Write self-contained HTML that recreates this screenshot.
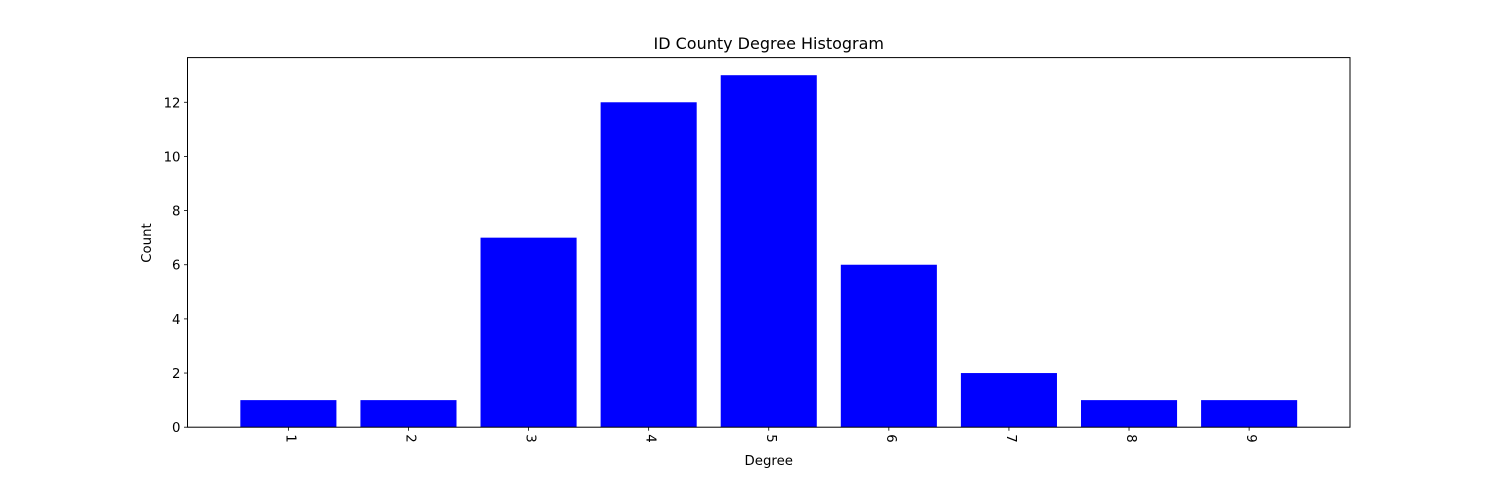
<!DOCTYPE html>
<html><head><meta charset="utf-8">
<style>
html,body{margin:0;padding:0;background:#fff;}
svg text{font-family:"DejaVu Sans","Liberation Sans",sans-serif;fill:#000;}
</style></head>
<body>
<svg id="chart" width="1500" height="480" xmlns="http://www.w3.org/2000/svg">
<rect width="1500" height="480" fill="#fff"/>
<text x="768.75" y="49" font-size="16" text-anchor="middle">ID County Degree Histogram</text>
<text x="768.75" y="465" font-size="13.3" text-anchor="middle">Degree</text>
<text transform="translate(151,243) rotate(-90)" font-size="13.3" text-anchor="middle">Count</text>
<g id="bars"></g>
<g id="ticks"></g>
<rect x="187.5" y="57.6" width="1162.5" height="369.6" fill="none" stroke="#000" stroke-width="1"/>
</svg>
<script>
const categories = [1,2,3,4,5,6,7,8,9];
const counts = [1,1,7,12,13,6,2,1,1];
const yTicks = [0,2,4,6,8,10,12];

const L=187.5,R=1350,T=57.6,B=427.2;
const xMin=0.16,xMax=9.84,yMax=13.65;
const xs=v=>L+(v-xMin)/(xMax-xMin)*(R-L);
const ys=v=>B-v/yMax*(B-T);
const NS="http://www.w3.org/2000/svg";
const bars=document.getElementById('bars');
const ticks=document.getElementById('ticks');
function mk(tag,attrs,parent){const e=document.createElementNS(NS,tag);for(const k in attrs)e.setAttribute(k,attrs[k]);parent.appendChild(e);return e;}
categories.forEach((c,i)=>{
  const r=mk('rect',{x:xs(c-0.4),y:ys(counts[i]),width:xs(c+0.4)-xs(c-0.4),height:ys(0)-ys(counts[i]),fill:'#0000ff'},bars);
  
  
  const t=mk('line',{x1:xs(c),x2:xs(c),y1:B,y2:B+3.5,stroke:'#000','stroke-width':0.8},ticks);
  
  
  const lb=mk('text',{transform:`translate(${xs(c)-2},${B+7}) rotate(90)`,'font-size':13.3},ticks);
  lb.textContent=c;
  
  
});
yTicks.forEach(v=>{
  const t=mk('line',{x1:L-3.5,x2:L,y1:ys(v),y2:ys(v),stroke:'#000','stroke-width':0.8},ticks);
  
  
  const lb=mk('text',{x:L-7,y:ys(v)+5,'font-size':13.3,'text-anchor':'end'},ticks);
  lb.textContent=v;
  
  
});
</script>
</body></html>
